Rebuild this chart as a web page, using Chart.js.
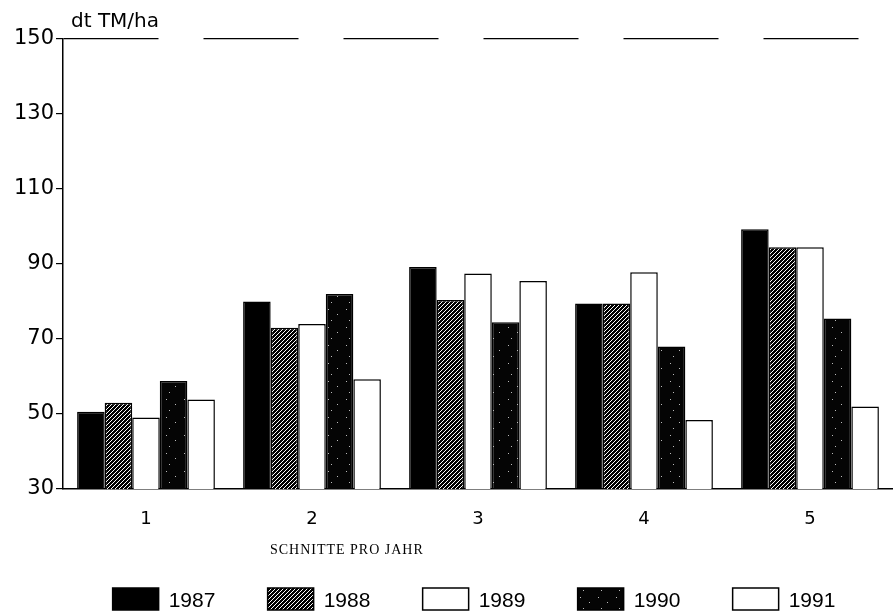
<!DOCTYPE html>
<html>
<head>
<meta charset="utf-8">
<script src="https://cdn.jsdelivr.net/npm/chart.js@4.4.1/dist/chart.umd.min.js"></script>
<style>
  html, body { margin: 0; background: #fff; }
  #wrap { width: 893px; height: 616px; }
</style>
</head>
<body>
<div id="wrap"><canvas id="myChart"></canvas></div>
<script>
// Data
const categories = ['1', '2', '3', '4', '5'];
const years = ['1987', '1988', '1989', '1990', '1991'];
const y1987 = [50.6, 80, 89.2, 79.5, 99.3];
const y1988 = [53, 73, 80.4, 79.5, 94.5];
const y1989 = [49.1, 74, 87.5, 87.8, 94.5];
const y1990 = [58.8, 82, 74.5, 68, 75.5];
const y1991 = [53.9, 59.3, 85.5, 48.4, 52];
const yTicks = [30, 50, 70, 90, 110, 130, 150];

const ctx = document.getElementById('myChart').getContext('2d');

// fill patterns like the printed original
function hatchPattern() {
    const c = document.createElement('canvas');
    c.width = 4; c.height = 4;
    const g = c.getContext('2d');
    g.fillStyle = '#000';
    g.fillRect(0, 0, 4, 4);
    g.strokeStyle = '#fff';
    g.lineWidth = 1;
    g.beginPath();
    g.moveTo(0, 4); g.lineTo(4, 0);
    g.moveTo(-1, 1); g.lineTo(1, -1);
    g.moveTo(3, 5); g.lineTo(5, 3);
    g.stroke();
    return ctx.createPattern(c, 'repeat');
}
function speckPattern() {
    const c = document.createElement('canvas');
    c.width = 18; c.height = 18;
    const g = c.getContext('2d');
    g.fillStyle = '#050505';
    g.fillRect(0, 0, 18, 18);
    g.fillStyle = '#bbb';
    g.fillRect(4, 3, 1, 1);
    g.fillRect(13, 8, 1, 1);
    g.fillRect(7, 14, 1, 1);
    return ctx.createPattern(c, 'repeat');
}

const fills = ['#000', hatchPattern(), '#fff', speckPattern(), '#fff'];
const series = [y1987, y1988, y1989, y1990, y1991];

const textPlugin = {
    id: 'textPlugin',
    afterDraw(chart) {
        const c = chart.ctx;
        const a = chart.chartArea;
        c.save();
        c.fillStyle = '#000';
        // y unit
        c.font = '20px "DejaVu Sans"';
        c.textAlign = 'left';
        c.textBaseline = 'alphabetic';
        c.fillText('dt TM/ha', a.left + 8, a.top - 12);
        // x title
        c.font = '14px "Liberation Serif"';
        c.letterSpacing = '1px';
        c.textAlign = 'center';
        c.textBaseline = 'middle';
        c.fillText('SCHNITTE PRO JAHR', a.left + (a.right - a.left) * 0.342, a.bottom + 61);
        c.letterSpacing = '0px';
        // legend
        const boxW = 46, boxH = 22, gap = 10, step = 155;
        c.font = '21px "Liberation Sans"';
        const total = step * (years.length - 1) + boxW + gap + c.measureText(years[4]).width;
        let x = (a.left + a.right) / 2 - total / 2 - 4;
        const y = a.bottom + 99;
        years.forEach((yr, i) => {
            c.fillStyle = fills[i];
            c.fillRect(x, y, boxW, boxH);
            c.strokeStyle = '#000';
            c.lineWidth = 1.5;
            c.strokeRect(x, y, boxW, boxH);
            c.fillStyle = '#000';
            c.textAlign = 'left';
            c.textBaseline = 'middle';
            c.fillText(yr, x + boxW + gap, y + boxH / 2 + 2);
            x += step;
        });
        c.restore();
    }
};

const myChart = new Chart(ctx, {
    type: 'bar',
    data: {
        labels: categories,
        datasets: years.map((yr, i) => ({
            label: yr,
            data: series[i],
            backgroundColor: fills[i],
            borderColor: '#000',
            borderWidth: 1.5,
            categoryPercentage: 0.83,
            barPercentage: 1
        }))
    },
    options: {
        responsive: true,
        maintainAspectRatio: false,
        animation: false,
        layout: { padding: { top: 39, right: 0, bottom: 0, left: 0 } },
        plugins: {
            legend: { display: false },
            tooltip: { enabled: false }
        },
        scales: {
            x: {
                grid: { display: false },
                border: { display: true, color: '#000', width: 1.5 },
                ticks: { color: '#000', font: { family: 'DejaVu Sans', size: 18 }, padding: 12 },
                afterFit: (s) => { s.height = 127; }
            },
            y: {
                min: 30,
                max: 150,
                afterBuildTicks: (axis) => { axis.ticks = yTicks.map(v => ({ value: v })); },
                grid: {
                    color: (c) => (c.tick && c.tick.value === 150 ? '#000' : 'rgba(0,0,0,0)'),
                    tickColor: '#000',
                    tickLength: 7,
                    lineWidth: 1.2
                },
                border: { display: true, color: '#000', width: 1.5, dash: [95, 45] },
                ticks: { color: '#000', font: { family: 'DejaVu Sans', size: 21 }, padding: 2 },
                afterFit: (s) => { s.width = 63; }
            }
        }
    },
    plugins: [textPlugin]
});
</script>
</body>
</html>
